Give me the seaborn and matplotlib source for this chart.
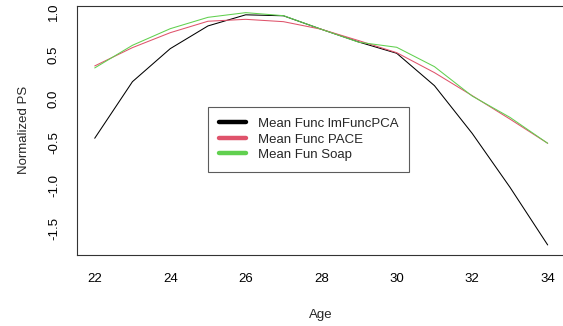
import matplotlib
matplotlib.use("Agg")
import matplotlib.pyplot as plt
import seaborn as sns
import pandas as pd
from matplotlib.lines import Line2D

age = [22, 23, 24, 25, 26, 27, 28, 29, 30, 31, 32, 33, 34]
imfuncpca = [-0.456, 0.196, 0.576, 0.838, 0.966, 0.955, 0.80, 0.652, 0.523, 0.150, -0.40, -1.02, -1.685]
pace = [0.377, 0.588, 0.760, 0.892, 0.914, 0.887, 0.80, 0.668, 0.530, 0.300, 0.035, -0.235, -0.514]
soap = [0.354, 0.615, 0.806, 0.937, 0.991, 0.956, 0.80, 0.650, 0.592, 0.369, 0.030, -0.215, -0.514]
series_names = ["Mean Func lmFuncPCA", "Mean Func PACE", "Mean Fun Soap"]
colors = ["#000000", "#DF536B", "#61D04F"]
xticks = [22, 24, 26, 28, 30, 32, 34]
yticks = [-1.5, -1.0, -0.5, 0.0, 0.5, 1.0]

df = pd.DataFrame({
    "Age": age * 3,
    "value": imfuncpca + pace + soap,
    "series": [series_names[0]] * len(age) + [series_names[1]] * len(age) + [series_names[2]] * len(age),
})

sns.set_style("white")
plt.rcParams["font.family"] = ["Liberation Sans", "DejaVu Sans"]

fig = plt.figure(figsize=(5.63, 3.26), dpi=100)
ax = fig.add_axes([76.6 / 563, 1 - 254.5 / 326, (565.8 - 76.6) / 563, (254.5 - 5.7) / 326])

sns.lineplot(data=df, x="Age", y="value", hue="series", palette=colors,
             hue_order=series_names, ax=ax, linewidth=0.75, legend=False)

ax.set_xlim(21.52, 34.48)
ax.set_ylim(-1.795, 1.071)
ax.set_xticks(xticks)
ax.set_xticklabels([str(x) for x in xticks])
ax.set_yticks(yticks)
ax.set_yticklabels([f"{y:.1f}" for y in yticks], rotation=90, va="center")
ax.tick_params(axis="both", direction="out", length=5.8, width=0.8, color="#333333",
               labelsize=9.5, colors="#000000")
ax.tick_params(axis="x", pad=7.5)
ax.tick_params(axis="y", pad=6.2)
for s in ax.spines.values():
    s.set_color("#333333")
    s.set_linewidth(0.8)

ax.set_xlabel("Age", fontsize=9.5, labelpad=17)
ax.set_ylabel("Normalized PS", fontsize=9.5, labelpad=13)

handles = [Line2D([0], [0], color=c, lw=3.2, solid_capstyle="round") for c in colors]
leg = ax.legend(handles, series_names, loc="upper left", bbox_to_anchor=(0.269, 0.592),
                borderaxespad=0, fontsize=9.5, frameon=True, fancybox=False,
                edgecolor="#333333", handlelength=2.1, handletextpad=0.85,
                labelspacing=0.25, borderpad=0.8)
leg.get_frame().set_linewidth(0.8)

fig.savefig("out.png", dpi=100)
